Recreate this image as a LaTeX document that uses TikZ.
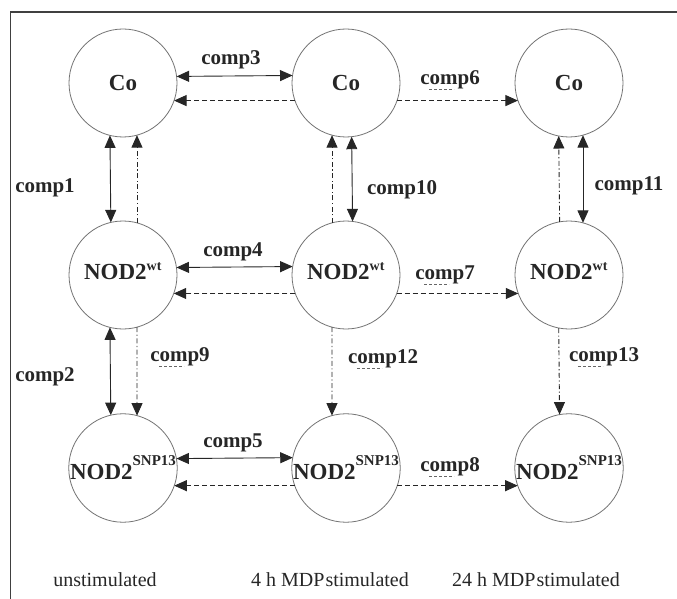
\documentclass[tikz,border=0pt]{standalone}
\usepackage{fontspec}
\setmainfont{Liberation Serif}
\usetikzlibrary{arrows.meta,calc}

\tikzset{
  state/.style={circle, draw=black!55, line width=0.8pt, minimum size=108pt,
    inner sep=0pt, outer sep=0pt, font=\fontsize{23}{23}\selectfont\bfseries, text=black!85},
  conn/.style={draw=black!85, line width=0.9pt},
  tip/.style={-{Triangle[length=12.5pt,width=11pt]}},
  bitip/.style={{Triangle[length=12.5pt,width=11pt]}-{Triangle[length=12.5pt,width=11pt]}},
  dashedline/.style={dash pattern=on 5pt off 3pt},
  dashdot/.style={dash pattern=on 5pt off 2.5pt on 1.2pt off 2.5pt},
  lab/.style={font=\fontsize{21}{21}\selectfont\bfseries, text=black!85, inner sep=1pt},
  cond/.style={font=\fontsize{20}{20}\selectfont, text=black!85, inner sep=0pt},
  mark line/.style={draw=black!60, line width=0.7pt, dash pattern=on 3pt off 2pt},
}

\newcommand{\wtlabel}{\raisebox{7pt}{NOD2\textsuperscript{\fontsize{14}{14}\selectfont wt}}}
\newcommand{\snplabel}{NOD2\raisebox{14pt}{\fontsize{15}{15}\selectfont SNP13}}

\begin{document}
\begin{tikzpicture}[x=1pt, y=-1pt]
  \useasboundingbox (0,0) rectangle (677,599);

  % outer frame (left and top edges)
  \draw[black!75, line width=1.5pt] (10.5,599) -- (10.5,12) -- (677,12);

  % states
  \node[state] (a1) at (123,83) {Co};
  \node[state] (a2) at (346,83) {Co};
  \node[state] (a3) at (569,83) {Co};
  \node[state] (b1) at (123,275) {\wtlabel};
  \node[state] (b2) at (346,275) {\wtlabel};
  \node[state] (b3) at (569,275) {\wtlabel};
  \node[state] (c1) at (123,468) {\snplabel};
  \node[state] (c2) at (346,468) {\snplabel};
  \node[state] (c3) at (569,468) {\snplabel};

  % horizontal comparisons
  \draw[conn, bitip] (a1.7.45) -- (a2.172.55);
  \draw[conn, tip, dashedline] (a2.199.47) -- (a1.-19.47);
  \draw[conn, tip, dashedline] (a2.-19.47) -- (a3.199.47);

  \draw[conn, bitip] (b1.8.52) -- (b2.171.48);
  \draw[conn, tip, dashedline] (b2.200.6) -- (b1.-20.6);
  \draw[conn, tip, dashedline] (b2.-20.6) -- (b3.200.6);

  \draw[conn, bitip] (c1.10.67) -- (c2.169.33);
  \draw[conn, tip, dashedline] (c2.199.47) -- (c1.-19.47);
  \draw[conn, tip, dashedline] (c2.-19.47) -- (c3.199.47);

  % vertical comparisons, first column
  \draw[conn, bitip] (a1.256.07) -- (b1.103.93);
  \draw[conn, tip, dashdot] (b1.75) -- (a1.285);
  \draw[conn, bitip] (b1.256.07) -- (c1.103.93);
  \draw[conn, tip, dashdot] (b1.285) -- (c1.75);

  % second column
  \draw[conn, tip, dashdot] (b2.105) -- (a2.255);
  \draw[conn, bitip] (a2.276.38) -- (b2.83.62);
  \draw[conn, tip, dashdot] (b2.255) -- (c2.105);

  % third column
  \draw[conn, tip, dashdot] (b3.100.67) -- (a3.259.33);
  \draw[conn, bitip] (a3.285) -- (b3.75);
  \draw[conn, tip, dashdot] (b3.259.33) -- (c3.100.67);

  % comparison labels
  \node[lab] (l1) at (45,188) {comp1};
  \node[lab] (l2) at (45,377) {comp2};
  \node[lab] (l3) at (231,60) {comp3};
  \node[lab] (l4) at (233,252) {comp4};
  \node[lab] (l5) at (233,443) {comp5};
  \node[lab] (l6) at (450,80) {comp6};
  \node[lab] (l7) at (445,275) {comp7};
  \node[lab] (l8) at (450,467) {comp8};
  \node[lab] (l9) at (180,357) {comp9};
  \node[lab] (l10) at (402,190) {comp10};
  \node[lab] (l11) at (629,186) {comp11};
  \node[lab] (l12) at (383,359) {comp12};
  \node[lab] (l13) at (604,357) {comp13};

  % short line-style marks under the dashed comparisons
  \foreach \l in {l6,l7,l8,l9,l12,l13}
    \draw[mark line] ($(\l.south west)+(10,-1)$) -- +(25,0);

  % conditions
  \node[cond] (u) at (105,580) {unstimulated};
  \node[cond] (m4) at (330,580) {4 h MDP\hspace{1pt}stimulated};
  \node[cond] (m24) at (536,580) {24 h MDP\hspace{1pt}stimulated};
\end{tikzpicture}
\end{document}
